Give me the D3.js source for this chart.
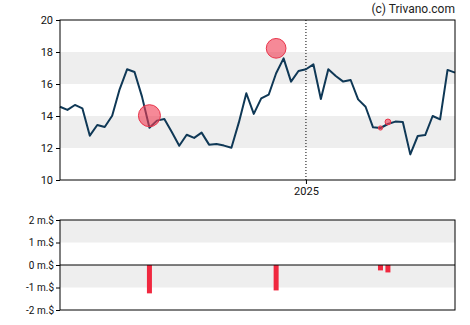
<!DOCTYPE html>
<html><head><meta charset="utf-8">
<script src="https://cdn.jsdelivr.net/npm/d3@7"></script>
<style>body{margin:0;background:#fff}svg{display:block}text{font-family:Roboto,"DejaVu Sans",sans-serif}</style>
</head><body><svg id="c" width="470" height="325"></svg>
<script>
const dates = ["2024-05-15","2024-05-22","2024-05-29","2024-06-05","2024-06-12","2024-06-19","2024-06-26","2024-07-03","2024-07-10","2024-07-17","2024-07-24","2024-07-31","2024-08-07","2024-08-14","2024-08-21","2024-08-28","2024-09-04","2024-09-11","2024-09-18","2024-09-25","2024-10-02","2024-10-09","2024-10-16","2024-10-23","2024-10-30","2024-11-06","2024-11-13","2024-11-20","2024-11-27","2024-12-04","2024-12-11","2024-12-18","2024-12-25","2025-01-01","2025-01-08","2025-01-15","2025-01-22","2025-01-29","2025-02-05","2025-02-12","2025-02-19","2025-02-26","2025-03-05","2025-03-12","2025-03-19","2025-03-26","2025-04-02","2025-04-09","2025-04-16","2025-04-23","2025-04-30","2025-05-07","2025-05-14","2025-05-21"];
const prices = [14.58,14.38,14.69,14.48,12.77,13.44,13.31,14.02,15.67,16.92,16.75,15.21,13.27,13.71,13.81,13.0,12.14,12.83,12.63,12.96,12.21,12.25,12.15,12.02,13.6,15.42,14.13,15.1,15.33,16.67,17.6,16.15,16.81,16.92,17.23,15.06,16.92,16.5,16.15,16.25,15.04,14.58,13.29,13.25,13.5,13.65,13.63,11.6,12.75,12.81,14.0,13.79,16.88,16.71];
const tradeDates = ["2024-08-07","2024-12-04","2025-03-12","2025-03-19"];
const tradePrices = [14.02,18.23,13.25,13.63];
const tradeValues = [-1.26,-1.13,-0.24,-0.33];
const priceTicks = [10,12,14,16,18,20];
const volTicks = [-2,-1,0,1,2];
const volTickLabels = ["-2 m.$","-1 m.$","0 m.$","1 m.$","2 m.$"];
const yearTicks = ["2025-01-01"];
const yearLabels = ["2025"];

const parse = d3.timeParse("%Y-%m-%d");
const svg = d3.select("#c");
const L = 60, R = 455;
const x = d3.scaleTime().domain([parse(dates[0]), parse(dates[dates.length-1])]).range([L, R]);
const y = d3.scaleLinear().domain([10,20]).range([180,20]);
const yv = d3.scaleLinear().domain([-2,2]).range([310,220]);
const r = d3.scaleLinear().domain([0,1.26]).range([0,11]);

// bands top
[[12,14],[16,18]].forEach(b=>svg.append("rect").attr("x",L).attr("width",R-L).attr("y",y(b[1])).attr("height",y(b[0])-y(b[1])).attr("fill","#eeeeee"));
[[1,2],[-1,0]].forEach(b=>svg.append("rect").attr("x",L).attr("width",R-L).attr("y",yv(b[1])).attr("height",yv(b[0])-yv(b[1])).attr("fill","#eeeeee"));

// dotted year line
yearTicks.forEach(t=>svg.append("line").attr("x1",x(parse(t))).attr("x2",x(parse(t))).attr("y1",20).attr("y2",180).attr("stroke","#000").attr("stroke-dasharray","1,2"));

// line
const line = d3.line().x((d,i)=>x(parse(dates[i]))).y(d=>y(d));
svg.append("path").datum(prices).attr("d",line).attr("fill","none").attr("stroke","#0f3856").attr("stroke-width",2).attr("stroke-linejoin","round");

// trade circles
svg.selectAll("circle.t").data(tradeDates).enter().append("circle")
  .attr("cx",(d)=>x(parse(d))).attr("cy",(d,i)=>y(tradePrices[i])).attr("r",(d,i)=>r(Math.abs(tradeValues[i])))
  .attr("fill","#f03a52").attr("fill-opacity",0.6).attr("stroke","#e8344a").attr("stroke-width",1);

// bars
svg.selectAll("rect.b").data(tradeDates).enter().append("rect")
  .attr("x",d=>x(parse(d))-2.5).attr("width",5).attr("y",yv(0)).attr("height",(d,i)=>yv(tradeValues[i])-yv(0)).attr("fill","#f0283f");

// zero line
svg.append("line").attr("x1",L).attr("x2",R).attr("y1",yv(0)).attr("y2",yv(0)).attr("stroke","#000");

// frames
svg.append("rect").attr("x",L).attr("y",20).attr("width",R-L).attr("height",160).attr("fill","none").attr("stroke","#000");
svg.append("rect").attr("x",L).attr("y",220).attr("width",R-L).attr("height",90).attr("fill","none").attr("stroke","#000");

// axes
const ya = svg.append("g").attr("transform",`translate(${L},0)`).call(d3.axisLeft(y).tickValues(priceTicks).tickSize(4).tickPadding(3).tickFormat(d3.format("d")));
ya.select(".domain").remove();
ya.selectAll("text").attr("font-size",11).attr("fill","#111");
const yva = svg.append("g").attr("transform",`translate(${L},0)`).call(d3.axisLeft(yv).tickValues(volTicks).tickSize(4).tickPadding(2).tickFormat((d,i)=>volTickLabels[volTicks.indexOf(d)]));
yva.select(".domain").remove();
yva.selectAll("text").attr("font-size",10).attr("fill","#111");
const xa = svg.append("g").attr("transform",`translate(0,180)`).call(d3.axisBottom(x).tickValues(yearTicks.map(parse)).tickSize(4).tickPadding(3).tickFormat((d,i)=>yearLabels[i]));
xa.select(".domain").remove();
xa.selectAll("text").attr("font-size",11).attr("fill","#111");

svg.append("text").attr("x",R).attr("y",13).attr("text-anchor","end").attr("font-size",12).attr("fill","#222").text("(c) Trivano.com");
</script></body></html>
